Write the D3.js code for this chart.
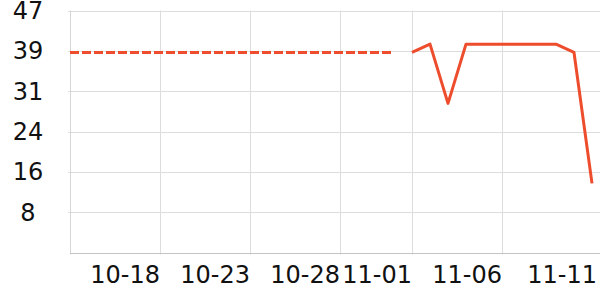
<!DOCTYPE html>
<html>
<head>
<meta charset="utf-8">
<script src="https://cdn.jsdelivr.net/npm/d3@7"></script>
<style>
  body { margin: 0; background: #fff; }
  svg { display: block; font-family: "DejaVu Sans", sans-serif; }
</style>
</head>
<body>
<div id="chart"></div>
<script>
// estimated series, two pieces: flat dashed stretch then the solid one
var dashedDays = ["10-13","10-14","10-15","10-16","10-17","10-18","10-19","10-20","10-21","10-22",
	"10-23","10-24","10-25","10-26","10-27","10-28","10-29","10-30","10-31"]
var dashedValues = [38.85,38.85,38.85,38.85,38.85,38.85,38.85,38.85,38.85,38.85,
	38.85,38.85,38.85,38.85,38.85,38.85,38.85,38.85,38.85]

var solidDays = ["11-01","11-02","11-03","11-04","11-05","11-06","11-07","11-08","11-09","11-10","11-11"]
var solidValues = [38.85, 40.46, 28.95, 40.46, 40.46, 40.46, 40.46, 40.46, 40.46, 38.85, 13.43]

var xTickLabels = ["10-18","10-23","10-28","11-01","11-06","11-11"]
var yTicks = [7.83, 15.67, 23.5, 31.33, 39.17, 47]
var yMax = 47

;(function() {
	var width = 600, height = 300
	var margin = { top: 10.5, left: 70, right: 0, bottom: 47.5 }
	var lineColor = "#ee4d2d"

	var parse = d3.timeParse("%Y-%m-%d")
	function day(s) { return parse("2023-" + s) }

	var svg = d3.select("#chart")
		.append("svg")
		.attr("width", width)
		.attr("height", height)

	var x = d3.scaleTime()
		.domain([day(dashedDays[0]), day(solidDays[solidDays.length - 1])])
		.range([margin.left, 592])

	var y = d3.scaleLinear()
		.domain([0, yMax])
		.range([height - margin.bottom, margin.top])

	// horizontal grid
	svg.append("g")
		.selectAll("line")
		.data(yTicks)
		.enter().append("line")
		.attr("x1", margin.left - 2)
		.attr("x2", width)
		.attr("y1", function(d) { return Math.round(y(d)) + 0.5 })
		.attr("y2", function(d) { return Math.round(y(d)) + 0.5 })
		.attr("stroke", "#dddddd")

	// vertical grid (no line for the last label)
	var gridTicks = xTickLabels.slice(0, -1)
	svg.append("g")
		.selectAll("line")
		.data(gridTicks)
		.enter().append("line")
		.attr("x1", function(d) { return Math.round(x(day(d))) + 0.5 })
		.attr("x2", function(d) { return Math.round(x(day(d))) + 0.5 })
		.attr("y1", margin.top)
		.attr("y2", height - margin.bottom + 2)
		.attr("stroke", "#dddddd")

	// left axis line
	svg.append("line")
		.attr("x1", margin.left + 0.5).attr("x2", margin.left + 0.5)
		.attr("y1", margin.top).attr("y2", height - margin.bottom + 2)
		.attr("stroke", "#d6d6d6")

	// bottom axis line
	var yb = Math.round(height - margin.bottom) + 0.5
	svg.append("line")
		.attr("x1", margin.left).attr("x2", width)
		.attr("y1", yb).attr("y2", yb)
		.attr("stroke", "#c4c4c4")

	// y labels
	svg.append("g")
		.selectAll("text")
		.data(yTicks)
		.enter().append("text")
		.attr("x", 28)
		.attr("y", function(d) { return y(d) })
		.attr("dy", "0.36em")
		.attr("text-anchor", "middle")
		.attr("font-size", 24)
		.attr("fill", "#111")
		.text(d3.format(".0f"))

	// x labels
	svg.append("g")
		.selectAll("text")
		.data(xTickLabels)
		.enter().append("text")
		.attr("x", function(d, i) {
			var px = x(day(d))
			return i == xTickLabels.length - 1 ? width - 3 : px
		})
		.attr("y", 274)
		.attr("dy", "0.36em")
		.attr("text-anchor", "end")
		.attr("font-size", 24)
		.attr("fill", "#111")
		.text(function(d) { return d })

	var line = d3.line()
		.x(function(d) { return x(d[0]) })
		.y(function(d) { return y(d[1]) })

	var dashed = dashedDays.map(function(d, i) { return [day(d), dashedValues[i]] })
	var solid = solidDays.map(function(d, i) { return [day(d), solidValues[i]] })

	svg.append("path")
		.datum(dashed)
		.attr("d", line)
		.attr("fill", "none")
		.attr("stroke", lineColor)
		.attr("stroke-width", 3)
		.attr("stroke-dasharray", "9,3")

	svg.append("path")
		.datum(solid)
		.attr("d", line)
		.attr("fill", "none")
		.attr("stroke", lineColor)
		.attr("stroke-width", 3)
		.attr("stroke-linejoin", "round")

})();
</script>
</body>
</html>
